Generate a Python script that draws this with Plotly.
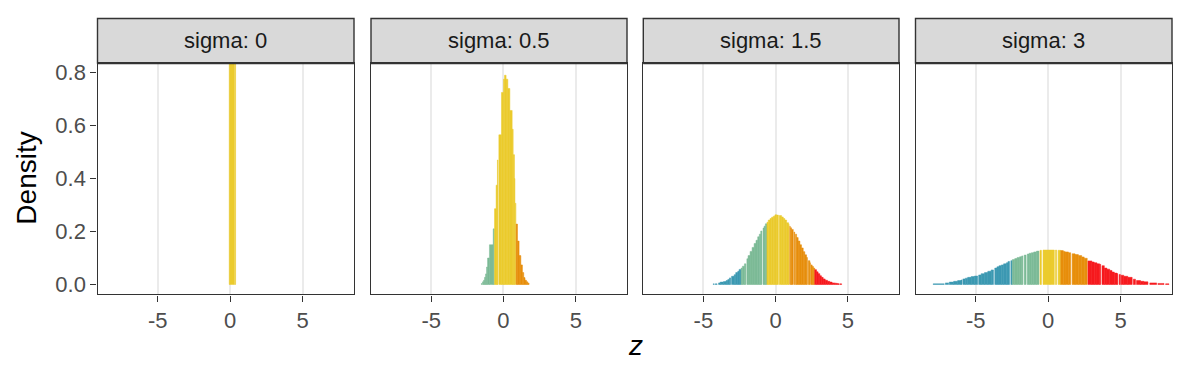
import plotly.graph_objects as go

# ---------------- data ----------------
PANEL_LABELS = ["sigma: 0", "sigma: 0.5", "sigma: 1.5", "sigma: 3"]
X_TICKS = [-5, 0, 5]
X_TICK_TEXT = ["-5", "0", "5"]
Y_TICKS = [0.0, 0.2, 0.4, 0.6, 0.8]
Y_TICK_TEXT = ["0.0", "0.2", "0.4", "0.6", "0.8"]

ZONE_COLORS = {"A": "#3C99B2", "B": "#7CBA97", "C": "#EBCB2D", "D": "#E78E0C", "E": "#F61A1E"}

# sigma = 0
s0_lo = [-0.07, 0.30]
s0_hi = [0.27, 0.37]
s0_dens = [2.7, 2.7]
s0_zone = ["C", "C"]

# sigma = 0.5
s05_lo = [-1.53, -1.45, -1.38, -1.31, -1.24, -1.17, -1.10, -0.97, -0.71,
          -0.62, -0.51, -0.42, -0.32, -0.14, 0.00, 0.07, 0.18, 0.30, 0.44, 0.60, 0.67, 0.76, 0.83,
          0.87, 0.97, 1.08, 1.20, 1.31, 1.40, 1.49, 1.59, 1.68]
s05_hi = [-1.48, -1.38, -1.31, -1.24, -1.17, -1.10, -0.97, -0.71, -0.63,
          -0.51, -0.42, -0.38, -0.14, 0.00, 0.07, 0.18, 0.30, 0.44, 0.60, 0.67, 0.76, 0.79, 0.86,
          0.97, 1.08, 1.20, 1.31, 1.40, 1.49, 1.59, 1.68, 1.77]
s05_dens = [0.004, 0.010, 0.016, 0.027, 0.040, 0.066, 0.100, 0.150, 0.210,
            0.286, 0.375, 0.470, 0.565, 0.725, 0.775, 0.790, 0.775, 0.740, 0.657, 0.586, 0.490, 0.400, 0.307,
            0.228, 0.164, 0.109, 0.074, 0.045, 0.026, 0.016, 0.010, 0.005]
s05_zone = ["B"] * 9 + ["C"] * 14 + ["D"] * 9

# sigma = 1.5
s15_lo = [-4.32, -4.18, -3.95, -3.84, -3.61, -3.43, -3.31, -3.20, -3.05, -2.87, -2.76, -2.62, -2.53,
          -2.39, -2.30, -2.16, -1.99, -1.91, -1.77, -1.63, -1.49, -1.36, -1.24, -1.13, -1.03, -0.87, -0.80, -0.71,
          -0.60, -0.51, -0.39, -0.28, -0.16, -0.05, 0.07, 0.25, 0.41, 0.53, 0.64, 0.76, 0.90,
          0.98, 1.03, 1.10, 1.27, 1.37, 1.45, 1.56, 1.68, 1.79, 1.91, 2.02, 2.14, 2.26, 2.37, 2.45, 2.53, 2.62,
          2.71, 2.83, 2.94, 3.06, 3.17, 3.29, 3.43, 3.59, 3.75, 3.91, 4.09, 4.21, 4.32, 4.44]
s15_hi = [-4.25, -4.05, -3.84, -3.61, -3.43, -3.31, -3.20, -3.11, -2.87, -2.76, -2.62, -2.53, -2.39,
          -2.30, -2.16, -2.06, -1.91, -1.77, -1.63, -1.49, -1.36, -1.24, -1.13, -1.03, -0.95, -0.80, -0.71, -0.60,
          -0.51, -0.39, -0.28, -0.16, -0.05, 0.07, 0.19, 0.41, 0.53, 0.64, 0.76, 0.90, 0.93,
          1.01, 1.10, 1.22, 1.32, 1.45, 1.56, 1.68, 1.79, 1.91, 2.02, 2.14, 2.20, 2.37, 2.40, 2.53, 2.62, 2.71,
          2.83, 2.94, 3.06, 3.17, 3.29, 3.43, 3.59, 3.75, 3.91, 4.09, 4.21, 4.32, 4.39, 4.57]
s15_dens = [0.0025, 0.0025, 0.006, 0.009, 0.011, 0.015, 0.019, 0.025, 0.031, 0.037, 0.045, 0.050, 0.057,
            0.062, 0.069, 0.078, 0.097, 0.109, 0.125, 0.140, 0.155, 0.167, 0.180, 0.190, 0.202, 0.213, 0.220, 0.229,
            0.235, 0.243, 0.249, 0.254, 0.258, 0.263, 0.262, 0.260, 0.255, 0.249, 0.243, 0.233, 0.227,
            0.220, 0.214, 0.208, 0.198, 0.190, 0.177, 0.164, 0.150, 0.138, 0.124, 0.112, 0.102, 0.090, 0.082, 0.074, 0.068, 0.062,
            0.056, 0.048, 0.041, 0.033, 0.027, 0.021, 0.016, 0.012, 0.009, 0.006, 0.005, 0.004, 0.003, 0.0025]
s15_zone = ["A"] * 13 + ["B"] * 15 + ["C"] * 13 + ["D"] * 17 + ["E"] * 14

# sigma = 3
s3_lo = [-7.94, -7.10, -6.83, -6.53, -6.25, -6.02, -5.89, -5.72, -5.56, -5.32, -5.09, -4.80, -4.63, -4.40,
         -4.17, -3.94, -3.69, -3.54, -3.40, -3.24, -3.08, -2.89, -2.78, -2.58,
         -2.48, -2.31, -2.15, -1.97, -1.83, -1.66, -1.45, -1.32, -1.16, -1.00, -0.81,
         -0.57, -0.36, 0.12, 0.50, 0.68,
         0.86, 1.04, 1.16, 1.39, 1.65, 1.85, 2.08, 2.31, 2.48,
         2.74, 3.01, 3.17, 3.36, 3.54, 3.71, 3.87, 4.05, 4.24, 4.40, 4.56, 4.75, 4.89, 5.03, 5.21, 5.49,
         5.87, 6.09, 6.37, 6.60, 7.01, 7.57, 8.10]
s3_hi = [-7.18, -6.88, -6.53, -6.25, -6.02, -5.95, -5.72, -5.56, -5.32, -5.09, -4.87, -4.63, -4.40, -4.17,
         -3.94, -3.78, -3.54, -3.40, -3.24, -3.08, -2.89, -2.78, -2.67, -2.48,
         -2.31, -2.15, -1.97, -1.83, -1.75, -1.53, -1.32, -1.16, -1.00, -0.81, -0.64,
         -0.47, 0.12, 0.42, 0.58, 0.86,
         1.04, 1.16, 1.39, 1.55, 1.85, 2.08, 2.31, 2.48, 2.69,
         3.01, 3.17, 3.36, 3.54, 3.62, 3.87, 4.05, 4.24, 4.40, 4.56, 4.75, 4.79, 4.98, 5.21, 5.49, 5.79,
         6.02, 6.37, 6.60, 6.88, 7.48, 7.99, 8.33]
s3_dens = [0.0025, 0.006, 0.009, 0.012, 0.015, 0.017, 0.021, 0.024, 0.027, 0.030, 0.032, 0.036, 0.041, 0.045,
           0.050, 0.055, 0.062, 0.067, 0.071, 0.074, 0.078, 0.082, 0.087, 0.090,
           0.094, 0.098, 0.102, 0.105, 0.108, 0.111, 0.115, 0.118, 0.120, 0.123, 0.126,
           0.129, 0.130, 0.130, 0.130, 0.129,
           0.128, 0.125, 0.123, 0.120, 0.116, 0.113, 0.109, 0.104, 0.099,
           0.089, 0.085, 0.082, 0.078, 0.076, 0.071, 0.062, 0.058, 0.053, 0.047, 0.043, 0.041, 0.038, 0.035, 0.031, 0.027,
           0.020, 0.015, 0.012, 0.010, 0.006, 0.004, 0.0025]
s3_zone = ["A"] * 24 + ["B"] * 11 + ["C"] * 5 + ["D"] * 9 + ["E"] * 23

PANELS = [
    (s0_lo, s0_hi, s0_dens, s0_zone),
    (s05_lo, s05_hi, s05_dens, s05_zone),
    (s15_lo, s15_hi, s15_dens, s15_zone),
    (s3_lo, s3_hi, s3_dens, s3_zone),
]

# ---------------- layout geometry ----------------
W, H = 1188, 378
PANEL_PX = [(97.5, 354.0), (371.0, 627.0), (643.3, 899.0), (915.5, 1172.0)]
TOP_PX, BOTTOM_PX, STRIP_TOP_PX = 61.0, 296.0, 15.7
X_RANGE = [-9.16, 8.54]
Y_RANGE = [-0.037, 0.836]
TICK_FONT = 22
STRIP_FONT = 22
TITLE_FONT = 28

def py(v):
    return (H - v) / H

fig = go.Figure()
layout = dict(
    width=W, height=H, margin=dict(l=0, r=0, t=0, b=0),
    paper_bgcolor="white", plot_bgcolor="white",
    barmode="overlay", showlegend=False,
    font=dict(family="Liberation Sans, Arial, sans-serif"),
)
shapes, annotations = [], []
LINE = "#333333"

for i, (lo, hi, dens, zone) in enumerate(PANELS):
    n = "" if i == 0 else str(i + 1)
    xa, ya = "x" + n, "y" + n
    for z in ["A", "B", "C", "D", "E"]:
        idx = [k for k in range(len(lo)) if zone[k] == z]
        if not idx:
            continue
        fig.add_trace(go.Bar(
            x=[(lo[k] + hi[k]) / 2 for k in idx],
            y=[dens[k] for k in idx],
            width=[hi[k] - lo[k] for k in idx],
            marker=dict(color=ZONE_COLORS[z], line=dict(width=0.5, color=ZONE_COLORS[z])),
            xaxis=xa, yaxis=ya, hoverinfo="skip",
        ))
    x0, x1 = PANEL_PX[i]
    layout["xaxis" + n] = dict(
        domain=[x0 / W, x1 / W], range=X_RANGE, anchor=ya,
        tickvals=X_TICKS, ticktext=X_TICK_TEXT,
        ticks="outside", ticklen=6, tickwidth=1.4, tickcolor=LINE,
        tickfont=dict(size=TICK_FONT, color="#4D4D4D"),
        showgrid=True, gridcolor="#EBEBEB", gridwidth=2,
        zeroline=False, showline=True, mirror=True, linecolor=LINE, linewidth=1.4,
    )
    yd = dict(
        domain=[py(BOTTOM_PX), py(TOP_PX)], range=Y_RANGE, anchor=xa,
        showgrid=False, zeroline=False, showline=True, mirror=True,
        linecolor=LINE, linewidth=1.4,
    )
    if i == 0:
        yd.update(tickvals=Y_TICKS, ticktext=Y_TICK_TEXT, ticks="outside", ticklen=6,
                  tickwidth=1.4, tickcolor=LINE, tickfont=dict(size=TICK_FONT, color="#4D4D4D"))
    else:
        yd.update(showticklabels=False, ticks="")
    layout["yaxis" + n] = yd

    shapes.append(dict(type="rect", xref="paper", yref="paper",
                       x0=x0 / W, x1=x1 / W, y0=py(TOP_PX), y1=py(STRIP_TOP_PX),
                       fillcolor="#D9D9D9", line=dict(color=LINE, width=1.4), layer="above"))
    shapes.append(dict(type="line", xref="paper", yref="paper",
                       x0=x0 / W, x1=x1 / W, y0=py(TOP_PX), y1=py(TOP_PX),
                       line=dict(color=LINE, width=2.2), layer="above"))
    annotations.append(dict(text=PANEL_LABELS[i], xref="paper", yref="paper",
                            x=(x0 + x1) / 2 / W, y=py((TOP_PX + STRIP_TOP_PX) / 2),
                            showarrow=False, xanchor="center", yanchor="middle",
                            font=dict(size=STRIP_FONT, color="#1A1A1A")))

annotations.append(dict(text="Density", xref="paper", yref="paper", x=27 / W, y=py(178.5),
                        textangle=-90, showarrow=False, xanchor="center", yanchor="middle",
                        font=dict(size=TITLE_FONT, color="black")))
annotations.append(dict(text="<i>z</i>", xref="paper", yref="paper", x=635 / W, y=py(348),
                        showarrow=False, xanchor="center", yanchor="middle",
                        font=dict(size=TITLE_FONT, color="black")))
layout["shapes"] = shapes
layout["annotations"] = annotations
fig.update_layout(**layout)
fig.write_html("out.html", config={"displayModeBar": False},
               post_script="document.body.style.margin='0px';document.body.style.padding='0px';")
